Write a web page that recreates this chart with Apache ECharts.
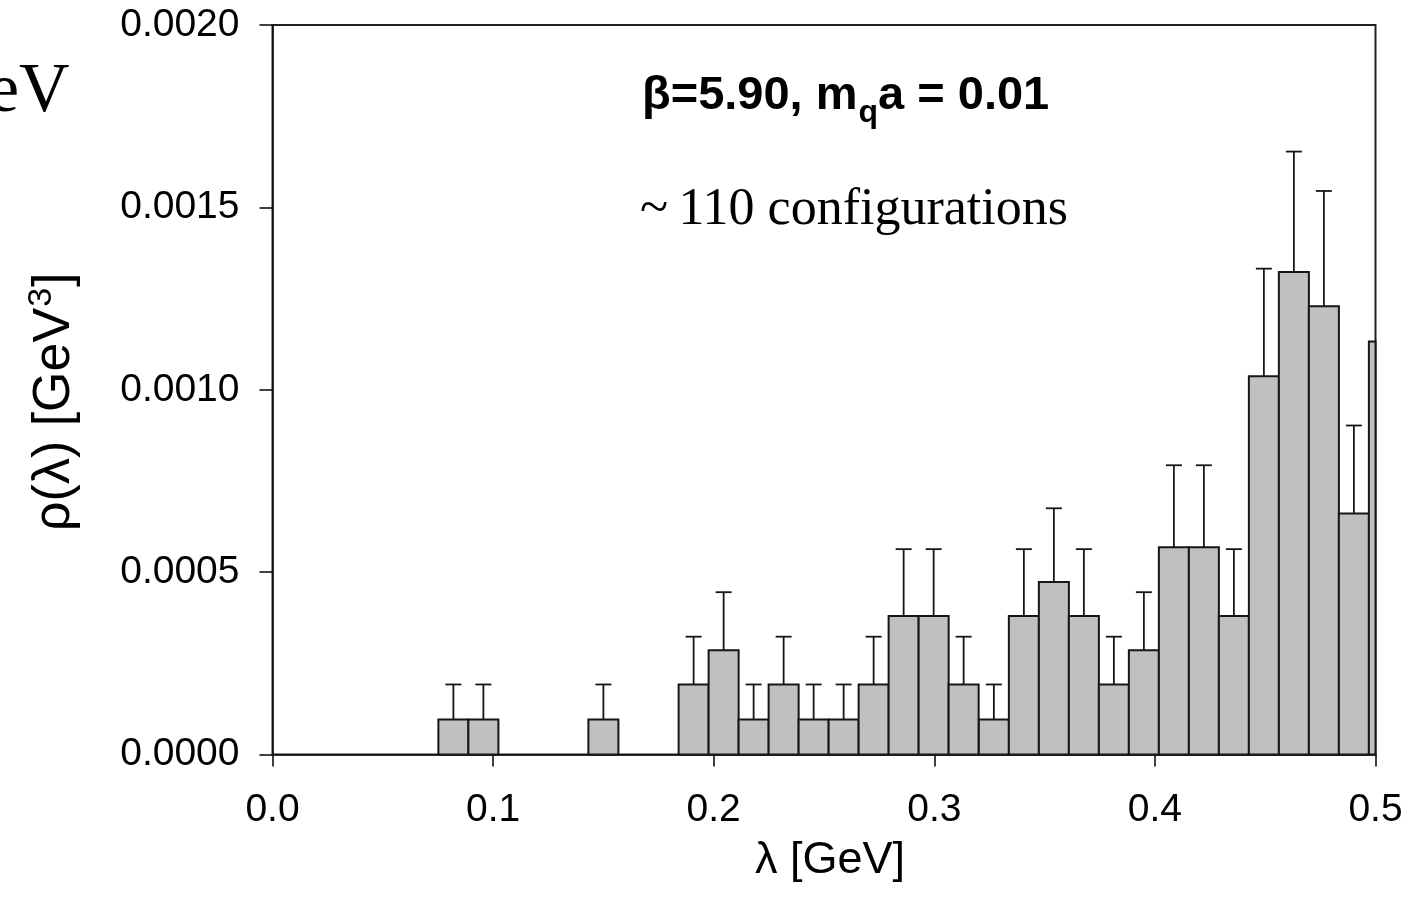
<!DOCTYPE html>
<html><head><meta charset="utf-8">
<script src="https://cdn.jsdelivr.net/npm/echarts@6/dist/echarts.min.js"></script>
<style>html,body{margin:0;padding:0;background:#fff}#chart{width:1412px;height:913px}</style>
</head><body><div id="chart"></div>
<script>
// Bin centres (GeV)
const binCenters = [0.0820,0.0956,0.1500,0.1909,0.2045,0.2181,0.2317,0.2453,0.2589,0.2725,0.2861,0.2997,0.3133,0.3270,0.3406,0.3542,0.3678,0.3814,0.3950,0.4086,0.4222,0.4358,0.4494,0.4630,0.4766,0.4902,0.5038];
// Spectral density rho(lambda) [GeV^3]
const rhoValues = [0.000096,0.000096,0.000096,0.000192,0.000286,0.000096,0.000192,0.000096,0.000096,0.000192,0.000380,0.000380,0.000192,0.000096,0.000380,0.000473,0.000380,0.000192,0.000286,0.000568,0.000568,0.000380,0.001037,0.001323,0.001229,0.000661,0.001132];
// Upper error bars
const rhoErrors = [0.000096,0.000096,0.000096,0.000131,0.000159,0.000096,0.000131,0.000096,0.000096,0.000131,0.000183,0.000183,0.000131,0.000096,0.000183,0.000202,0.000183,0.000131,0.000159,0.000225,0.000225,0.000183,0.000295,0.000330,0.000316,0.000241,0.000308];
const BIN_WIDTH = 0.01361;
const xTicks = [0, 0.1, 0.2, 0.3, 0.4, 0.5];
const yTicks = [0, 0.0005, 0.0010, 0.0015, 0.0020];

const data = binCenters.map((c, i) => [c, rhoValues[i], rhoErrors[i]]);
const chart = echarts.init(document.getElementById('chart'), null, {renderer: 'canvas'});
const AX = '#111';
const FONT = '"Liberation Sans", Arial, sans-serif';
const SERIF = '"Liberation Serif", "Times New Roman", serif';

const mctx = document.createElement('canvas').getContext('2d');
function tw(text, font) { mctx.font = font; return mctx.measureText(text).width; }

const T1_FONT = 'bold 47px ' + FONT;
const T1_SUB = 'bold 32px ' + FONT;
const t1a = 'β=5.90, m', t1b = 'a = 0.01';
const t1aw = tw(t1a, T1_FONT), t1qw = tw('q', T1_SUB);

const YT_FONT = '52px ' + FONT, YT_SUP = '34px ' + FONT;
const yta = 'ρ(λ) [GeV';
const ytaw = tw(yta, YT_FONT), yt3w = tw('3', YT_SUP);

function clipBox(params) {
  const c = params.coordSys;
  return {x: c.x, y: c.y, width: c.width, height: c.height};
}

chart.setOption({
  animation: false,
  grid: {left: 272.5, right: 36.5, top: 25, bottom: 158.5, show: true, borderColor: '#222', borderWidth: 2},
  xAxis: {
    type: 'value', min: xTicks[0], max: xTicks[xTicks.length-1], interval: 0.1,
    axisLine: {show: true, lineStyle: {color: AX, width: 1.6}},
    axisTick: {show: true, inside: false, length: 12, lineStyle: {color: AX, width: 1.6}},
    axisLabel: {fontSize: 39, color: '#000', fontFamily: FONT, margin: 36, formatter: v => v.toFixed(1)},
    splitLine: {show: false}
  },
  yAxis: {
    type: 'value', min: yTicks[0], max: yTicks[yTicks.length-1], interval: 0.0005,
    axisLine: {show: true, lineStyle: {color: AX, width: 1.6}},
    axisTick: {show: true, inside: false, length: 13, lineStyle: {color: AX, width: 1.6}},
    axisLabel: {fontSize: 39, color: '#000', fontFamily: FONT, margin: 33, formatter: v => v.toFixed(4)},
    splitLine: {show: false}
  },
  series: [
    {
      type: 'custom', data: data, z: 2,
      renderItem: function (params, api) {
        const x = api.value(0), v = api.value(1);
        const p0 = api.coord([x - BIN_WIDTH/2, 0]);
        const p1 = api.coord([x + BIN_WIDTH/2, v]);
        const shape = echarts.graphic.clipRectByRect(
          {x: p0[0], y: p1[1], width: p1[0]-p0[0], height: p0[1]-p1[1]}, clipBox(params));
        if (!shape) return null;
        return {type: 'rect', shape: shape, style: {fill: '#c0c0c0', stroke: '#161616', lineWidth: 2}};
      }
    },
    {
      type: 'custom', data: data, z: 3,
      renderItem: function (params, api) {
        const x = api.value(0), v = api.value(1), e = api.value(2);
        const pb = api.coord([x, v]);
        const pt = api.coord([x, v + e]);
        const c = params.coordSys;
        if (pb[0] > c.x + c.width) return null;
        return {type: 'group', children: [
          {type: 'line', shape: {x1: pb[0], y1: pb[1], x2: pt[0], y2: pt[1]}, style: {stroke: '#161616', lineWidth: 1.8}},
          {type: 'line', shape: {x1: pt[0]-8, y1: pt[1], x2: pt[0]+8, y2: pt[1]}, style: {stroke: '#161616', lineWidth: 1.8}}
        ]};
      }
    }
  ],
  graphic: [
    {type: 'text', left: -12, top: 58, style: {text: 'eV', font: '70px ' + SERIF, fill: '#000'}},
    // annotation line 1: beta=5.90, m_q a = 0.01
    {type: 'group', left: 642, top: 73, children: [
      {type: 'text', x: 0, y: 0, style: {text: t1a, font: T1_FONT, fill: '#000', textVerticalAlign: 'top'}},
      {type: 'text', x: t1aw + 1, y: 24, style: {text: 'q', font: T1_SUB, fill: '#000', textVerticalAlign: 'top'}},
      {type: 'text', x: t1aw + t1qw + 1, y: 0, style: {text: t1b, font: T1_FONT, fill: '#000', textVerticalAlign: 'top'}}
    ]},
    {type: 'text', left: 640, top: 184, style: {text: '~\u2009110 configurations', font: '52px ' + SERIF, fill: '#000'}},
    // x axis title
    {type: 'text', left: 755, top: 838, style: {text: 'λ [GeV]', font: '45px ' + FONT, fill: '#000'}},
    // y axis title (rotated)
    {type: 'group', x: 29, y: 531, rotation: Math.PI/2, children: [
      {type: 'text', x: 0, y: 0, style: {text: yta, font: YT_FONT, fill: '#000', textVerticalAlign: 'top'}},
      {type: 'text', x: ytaw + 1, y: -4, style: {text: '3', font: YT_SUP, fill: '#000', textVerticalAlign: 'top'}},
      {type: 'text', x: ytaw + yt3w + 2, y: 0, style: {text: ']', font: YT_FONT, fill: '#000', textVerticalAlign: 'top'}}
    ]}
  ]
});
</script>
</body></html>
